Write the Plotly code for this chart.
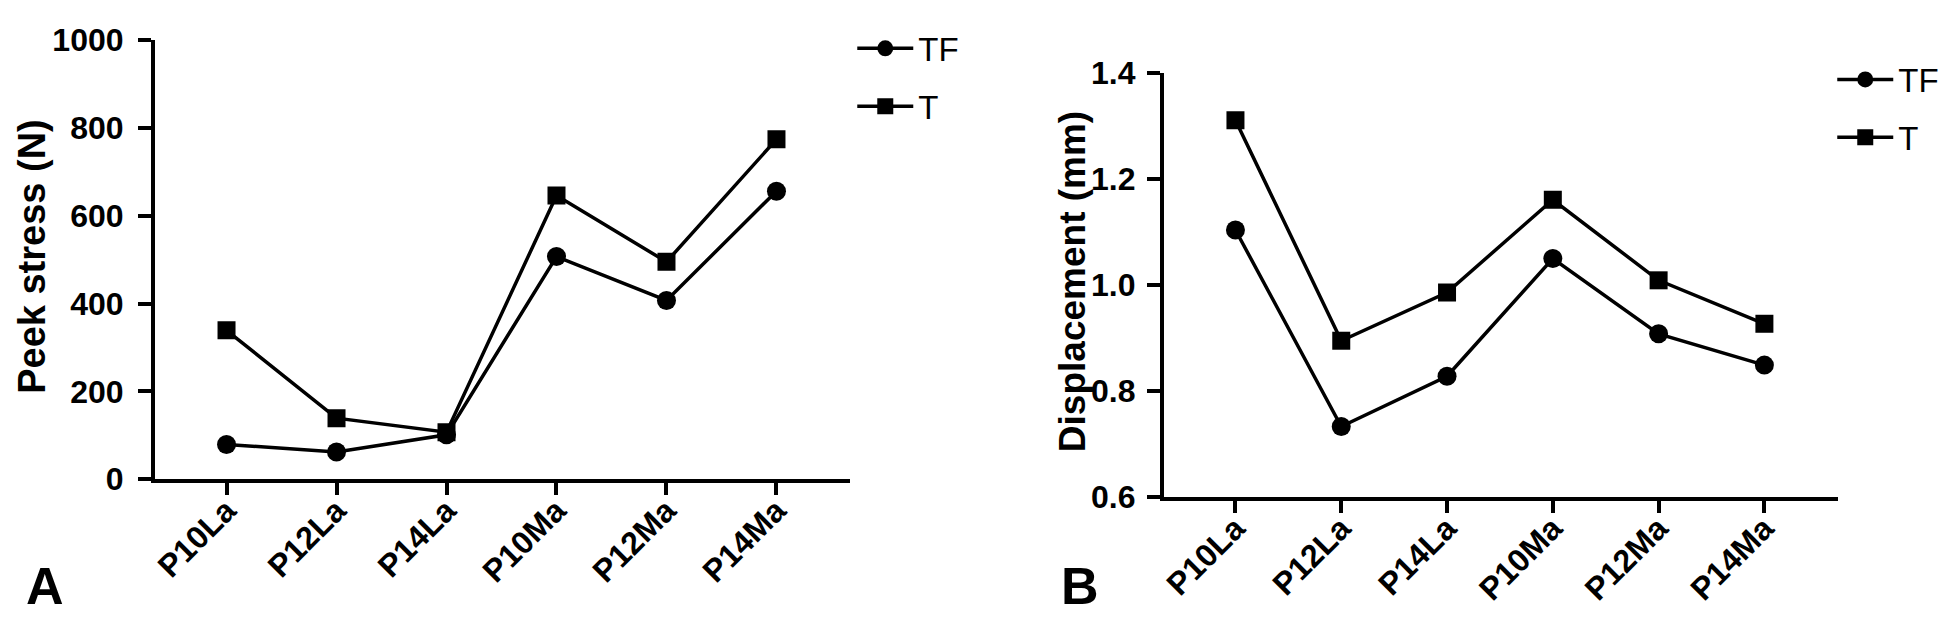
import plotly.graph_objects as go

categories = ["P10La", "P12La", "P14La", "P10Ma", "P12Ma", "P14Ma"]

# Panel A: Peek stress (N)
stress_TF = [79, 62, 101, 507, 407, 656]
stress_T = [339, 139, 107, 646, 495, 774]

# Panel B: Displacement (mm)
disp_TF = [1.104, 0.733, 0.828, 1.050, 0.908, 0.849]
disp_T = [1.311, 0.895, 0.986, 1.161, 1.009, 0.927]

series_names = ["TF", "T"]
panel_labels = ["A", "B"]
ytitles = ["Peek stress (N)", "Displacement (mm)"]

W, H = 1946, 622
FONT = "Liberation Sans, Arial, sans-serif"
BLACK = "#000000"
LW = 3.5

fig = go.Figure()

def add_series(xa, ya, tf, t, legend):
    fig.add_trace(go.Scatter(
        x=categories, y=tf, name=series_names[0], mode="lines+markers",
        xaxis=xa, yaxis=ya, legend=legend, legendgroup=legend + "tf",
        line=dict(color=BLACK, width=LW),
        marker=dict(symbol="circle", size=19, color=BLACK),
    ))
    fig.add_trace(go.Scatter(
        x=categories, y=t, name=series_names[1], mode="lines+markers",
        xaxis=xa, yaxis=ya, legend=legend, legendgroup=legend + "t",
        line=dict(color=BLACK, width=LW),
        marker=dict(symbol="square", size=18, color=BLACK),
    ))

add_series("x", "y", stress_TF, stress_T, "legend")
add_series("x2", "y2", disp_TF, disp_T, "legend2")

tickfont = dict(family=FONT, size=32, color=BLACK, weight="bold")

common_x = dict(
    type="category", showline=True, linecolor=BLACK, linewidth=LW,
    ticks="outside", ticklen=12, tickwidth=LW, tickcolor=BLACK,
    tickangle=-45, tickfont=tickfont, showgrid=False, zeroline=False,
    fixedrange=True, ticklabelstandoff=-16,
)
common_y = dict(
    showline=True, linecolor=BLACK, linewidth=LW,
    ticks="outside", ticklen=13, tickwidth=LW, tickcolor=BLACK,
    tickfont=tickfont, showgrid=False, zeroline=False, fixedrange=True,
)

legend_common = dict(
    xanchor="left", yanchor="top",
    font=dict(family=FONT, size=33, color=BLACK),
    bgcolor="rgba(0,0,0,0)", itemwidth=56, tracegroupgap=12,
    traceorder="grouped",
)

fig.update_layout(
    width=W, height=H,
    margin=dict(l=0, r=0, t=0, b=0),
    paper_bgcolor="white", plot_bgcolor="white",
    font=dict(family=FONT, color=BLACK),
    xaxis=dict(common_x, domain=[143 / W, 840 / W], range=[-0.653, 5.671], anchor="y"),
    yaxis=dict(common_y, domain=[(H - 481) / H, (H - 15) / H], range=[0, 1000],
               dtick=200, anchor="x", ticklabelstandoff=8),
    xaxis2=dict(common_x, domain=[1154 / W, 1830 / W], range=[-0.679, 5.698], anchor="y2"),
    yaxis2=dict(common_y, domain=[(H - 500) / H, (H - 50) / H], range=[0.6, 1.4],
                dtick=0.2, tickformat=".1f", anchor="x2", ticklabelstandoff=5),
    legend=dict(legend_common, x=842 / W, y=(H + 6) / H),
    legend2=dict(legend_common, x=1824 / W, y=(H - 27) / H),
    annotations=[
        dict(text=ytitles[0], x=20 / W, y=(H - 244) / H, xref="paper", yref="paper",
             textangle=-90, showarrow=False, xanchor="center", yanchor="middle",
             font=dict(family=FONT, size=38, color=BLACK, weight="bold")),
        dict(text=ytitles[1], x=1062 / W, y=(H - 271) / H, xref="paper", yref="paper",
             textangle=-90, showarrow=False, xanchor="center", yanchor="middle",
             font=dict(family=FONT, size=37, color=BLACK, weight="bold")),
        dict(text=panel_labels[0], x=33 / W, y=(H - 594) / H, xref="paper", yref="paper",
             showarrow=False, xanchor="center", yanchor="middle",
             font=dict(family=FONT, size=52, color=BLACK, weight="bold")),
        dict(text=panel_labels[1], x=1070 / W, y=(H - 594) / H, xref="paper", yref="paper",
             showarrow=False, xanchor="center", yanchor="middle",
             font=dict(family=FONT, size=52, color=BLACK, weight="bold")),
    ],
)

fig.write_html("out.html")
